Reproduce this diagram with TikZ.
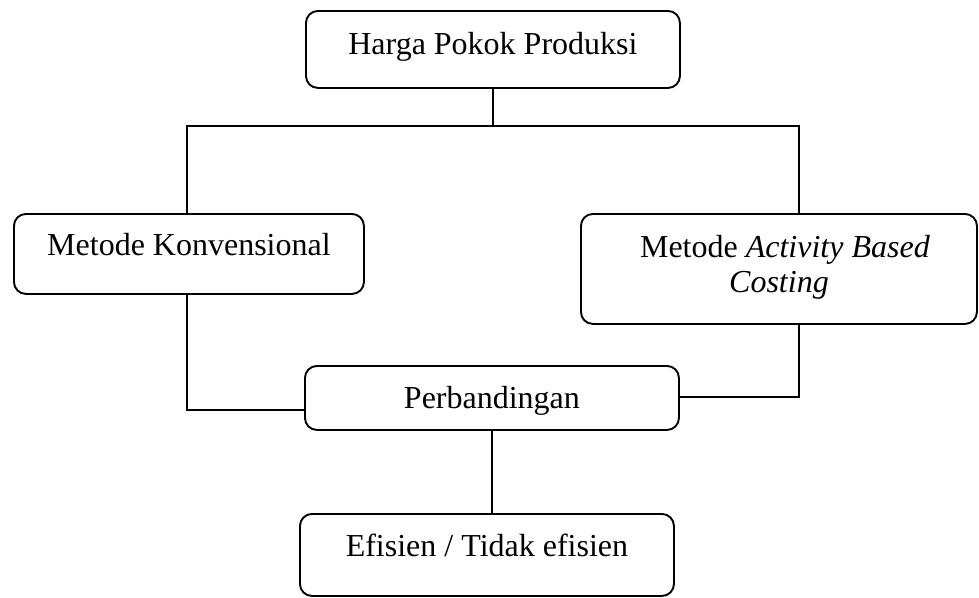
\documentclass[tikz,border=0pt]{standalone}
\usepackage{fontspec}
\setmainfont{Liberation Serif}
\begin{document}
\begin{tikzpicture}[x=1pt,y=-1pt,
 box/.style={draw, line width=1.9pt, rounded corners=12pt, inner sep=0pt, anchor=north west, text height=44pt, font=\fontsize{32}{35}\selectfont},
 conn/.style={line width=2pt}]
\useasboundingbox (0,0) rectangle (979,597);
\node[box, minimum width=374pt, text depth=33pt] (hpp) at (305,10) {Harga Pokok Produksi};
\node[box, minimum width=350pt, text height=42pt, text depth=38pt] (konv) at (13,213) {Metode Konvensional};
\node[box, minimum width=396pt, text depth=66pt] (abc) at (580,213) {\parbox[t]{396pt}{\centering\hspace*{12pt}Metode \textit{Activity Based}\\ \textit{Costing}}};
\node[box, minimum width=374pt, text height=43pt, text depth=21pt] (perb) at (304,365) {Perbandingan};
\node[box, minimum width=374pt, text height=43pt, text depth=39pt] (eff) at (299,513) {Efisien / Tidak efisien};
\coordinate (busL) at (187,126);
\coordinate (busR) at (799,126);
\coordinate (lowL) at (187,410);
\coordinate (lowR) at (799,397);
\draw[conn] (hpp.south) -- (hpp.south |- busL);
\draw[conn] (busL |- konv.north) -- (busL) -- (busR) -- (busR |- abc.north);
\draw[conn] (lowL |- konv.south) -- (lowL) -- (lowL -| perb.west);
\draw[conn] (lowR |- abc.south) -- (lowR) -- (lowR -| perb.east);
\draw[conn] (perb.south) -- (perb.south |- eff.north);
\end{tikzpicture}
\end{document}
